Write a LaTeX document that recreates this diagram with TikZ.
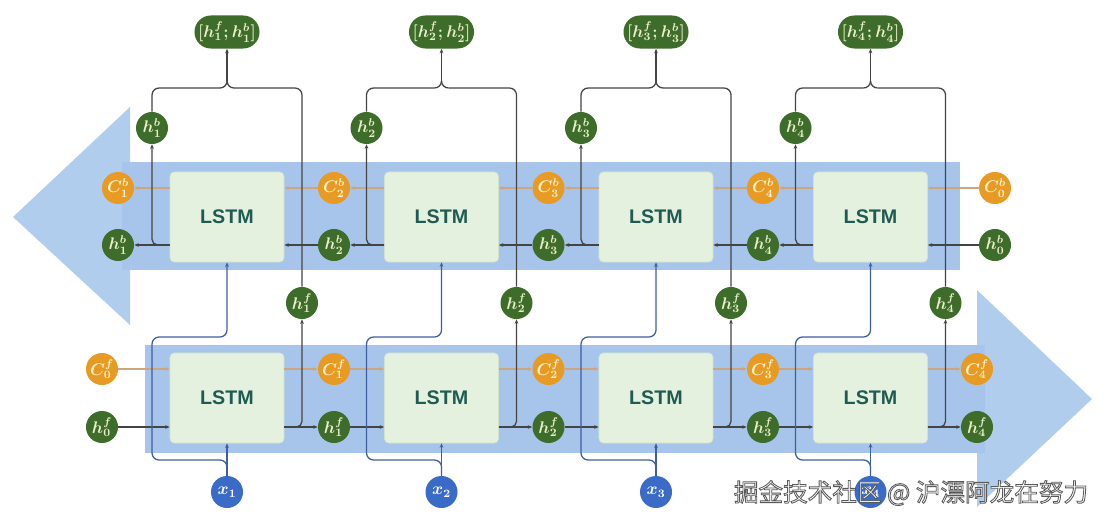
\documentclass[tikz,border=0pt]{standalone}
\usepackage{fontspec}
\newfontfamily\lstmfont{Liberation Sans}
\newfontfamily\cjkfont{Noto Sans CJK SC}
\usetikzlibrary{arrows.meta}
\definecolor{bandc}{HTML}{A7C5EA}
\definecolor{headc}{HTML}{B1CDEE}
\definecolor{boxc}{HTML}{E5F1DF}
\definecolor{boxd}{HTML}{D2E3CB}
\definecolor{gnc}{HTML}{3E6C2A}
\definecolor{orc}{HTML}{E89B24}
\definecolor{blc}{HTML}{3A6BC6}
\definecolor{hlc}{HTML}{444444}
\definecolor{clc}{HTML}{CDA680}
\definecolor{xlc}{HTML}{3F5E9E}
\definecolor{lstmt}{HTML}{1F5B52}
\definecolor{gtxt}{HTML}{E9EFCB}
\definecolor{otxt}{HTML}{FFF2C8}
\begin{document}
\begin{tikzpicture}[x=0.025cm,y=-0.025cm,
  tip/.style={-{Stealth[length=3.2pt,width=2.6pt]}},
  lstmbox/.style={draw=boxd,fill=boxc,rounded corners=3pt,minimum width=2.85cm,minimum height=2.25cm,
     font=\lstmfont\bfseries\fontsize{14}{14}\selectfont,text=lstmt,inner sep=0pt},
  gnode/.style={circle,fill=gnc,minimum size=0.8cm,inner sep=0pt,text=gtxt,font=\fontsize{12}{12}\selectfont\boldmath},
  onode/.style={circle,fill=orc,minimum size=0.8cm,inner sep=0pt,text=otxt,font=\fontsize{12}{12}\selectfont\boldmath},
  bnode/.style={circle,fill=blc,minimum size=0.8cm,inner sep=0pt,text=white,font=\fontsize{12}{12}\selectfont\boldmath},
  outnode/.style={rectangle,fill=gnc,rounded corners=0.41cm,minimum width=1.625cm,minimum height=0.825cm,
     inner sep=0pt,text=gtxt,font=\fontsize{12}{12}\selectfont\boldmath},
  hl/.style={draw=hlc,line width=0.9pt},
  cl/.style={draw=clc,line width=1.2pt},
  xl/.style={draw=xlc,line width=0.9pt}
]
\useasboundingbox (0,0) rectangle (1108,524);
\fill[white] (0,0) rectangle (1108,524);
% big arrows
\fill[headc] (130,107) -- (13,217) -- (130,325) -- cycle;
\fill[bandc] (122,162) rectangle (960,270);
\fill[headc] (977,290) -- (1092,399) -- (977,507) -- cycle;
\fill[bandc] (145,345) rectangle (985,453);

% side nodes
\node[onode] (Cf0) at (102,369) {$C^f_0$};
\node[gnode] (hf0) at (102,427) {$h^f_0$};
\node[onode] (Cb0) at (995,188) {$C^b_0$};
\node[gnode] (hb0) at (995,245) {$h^b_0$};

\foreach \i/\j/\cx/\lx/\rx in {0/1/227/118/334, 1/2/441.5/334/548.5, 2/3/656/548.5/763, 3/4/870.5/763/977}{
  \node[lstmbox] (T\i) at (\cx,217) {LSTM};
  \node[lstmbox] (B\i) at (\cx,398) {LSTM};
  \node[onode] (Cb\j) at (\lx,188) {$C^b_{\j}$};
  \node[gnode] (hb\j) at (\lx,245) {$h^b_{\j}$};
  \node[gnode] (hbu\j) at (\cx-75,128) {$h^b_{\j}$};
  \node[gnode] (hfu\j) at (\cx+75,303) {$h^f_{\j}$};
  \node[onode] (Cf\j) at (\rx,369) {$C^f_{\j}$};
  \node[gnode] (hf\j) at (\rx,427) {$h^f_{\j}$};
  \node[outnode] (O\j) at (\cx,32) {$[h^f_{\j};h^b_{\j}]$};
  \node[bnode] (X\j) at (\cx,492) {$x_{\j}$};
  \coordinate (br\j) at (\cx,81);
  \coordinate (bl\j) at (\cx-7,88);
  \coordinate (bR\j) at (\cx+7,88);
  \coordinate (xa\j) at (\cx-75,460);
  \coordinate (xb\j) at (\cx-75,337);
  \coordinate (xc\j) at (\cx,337);
}

\foreach \i/\j/\k in {0/1/2, 1/2/3, 2/3/4, 3/4/0}{
  % backward row
  \draw[hl,tip] (hb\k) -- (T\i.east |- hb\k);
  \draw[cl,tip] (Cb\k) -- (T\i.east |- Cb\k);
  \draw[hl,tip] (T\i.west |- hb\j) -- (hb\j);
  \draw[cl,tip] (T\i.west |- Cb\j) -- (Cb\j);
  \draw[hl,tip,rounded corners=4pt] (T\i.west |- hb\j) -| (hbu\j);
  % forward row
  \draw[hl,tip] (hf\i) -- (B\i.west |- hf\i);
  \draw[cl,tip] (Cf\i) -- (B\i.west |- Cf\i);
  \draw[hl,tip] (B\i.east |- hf\j) -- (hf\j);
  \draw[cl,tip] (B\i.east |- Cf\j) -- (Cf\j);
  \draw[hl,tip,rounded corners=4pt] (B\i.east |- hf\j) -| (hfu\j);
  % brace to output
  \draw[hl,rounded corners=5pt] (hbu\j) |- (bl\j);
  \draw[hl,rounded corners=5pt] (hfu\j) |- (bR\j);
  \draw[hl] (bl\j) to[out=0,in=-90] (br\j);
  \draw[hl] (bR\j) to[out=180,in=-90] (br\j);
  \draw[hl,tip] (br\j) -- (O\j);
  % inputs
  \draw[xl,tip] (X\j) -- (B\i.south);
  \draw[xl,tip,rounded corners=5pt] (X\j.north) |- (xa\j) -- (xb\j) -- (xc\j) -- (T\i.south);
}

% watermark
\node[font=\cjkfont\fontsize{17.5}{17.5}\selectfont,text=white,inner sep=0pt] (wm) at (911,493)
  {\special{pdf:code 2 Tr 0.6 w 0.35 0.35 0.35 RG}掘金技术社区 @ 沪漂阿龙在努力\special{pdf:code 0 Tr}};
\end{tikzpicture}
\end{document}
